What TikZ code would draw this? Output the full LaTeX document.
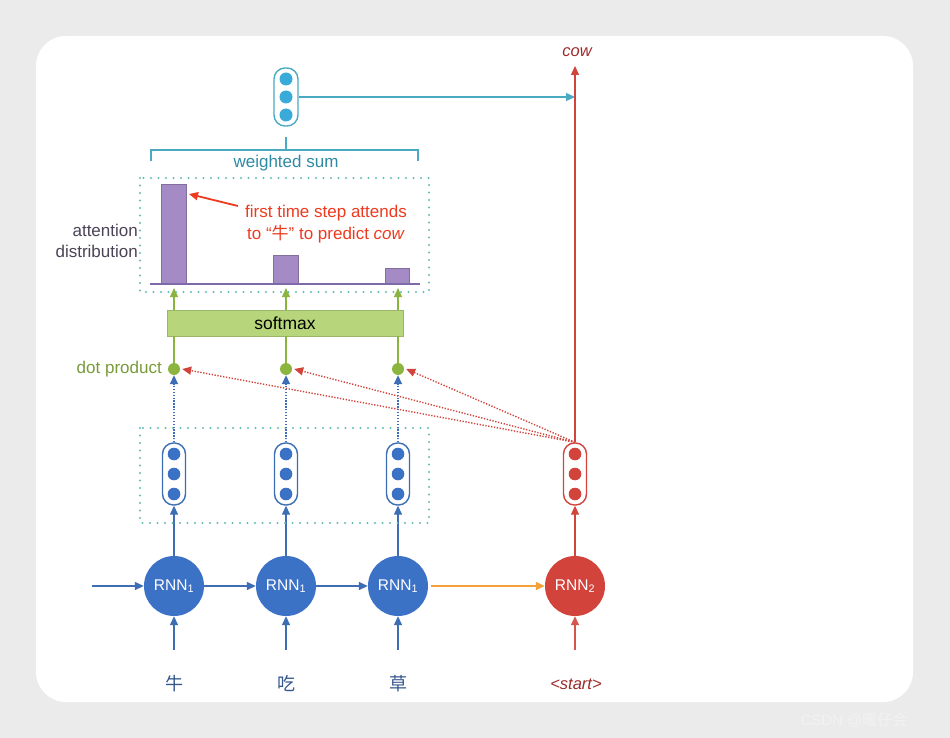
\documentclass[tikz,border=0pt]{standalone}
\usepackage{fontspec}
\setmainfont{Liberation Sans}
\newfontfamily\cjk{Noto Sans CJK SC}
\usetikzlibrary{arrows.meta}
\definecolor{bggray}{HTML}{EBEBEB}
\definecolor{encblue}{HTML}{3B72C6}
\definecolor{encline}{HTML}{3D6EB5}
\definecolor{decred}{HTML}{D2433B}
\definecolor{darkred}{HTML}{9E2B2B}
\definecolor{teal}{HTML}{4AAAC2}
\definecolor{tealtext}{HTML}{2E8BA3}
\definecolor{topdot}{HTML}{3AAAD9}
\definecolor{dotgreen}{HTML}{8CB53F}
\definecolor{smgreen}{HTML}{B7D67C}
\definecolor{olive}{HTML}{7A9A3A}
\definecolor{barpurple}{HTML}{A48BC6}
\definecolor{basepurple}{HTML}{7E6AA8}
\definecolor{attgray}{HTML}{4B4457}
\definecolor{annred}{HTML}{EE3A1E}
\definecolor{orangeline}{HTML}{F4A13A}
\definecolor{boxteal}{HTML}{66BDB5}
\definecolor{wordblue}{HTML}{34568C}
\begin{document}
\begin{tikzpicture}[x=1pt,y=-1pt,
  arr/.style={-{Triangle[length=9pt,width=8pt]}, line width=1.4pt},
  rnnnode/.style={circle, minimum size=60pt, inner sep=0pt, text=white, font=\fontsize{15.5}{18}\selectfont},
  vecnode/.style={draw, rounded corners=11pt, minimum width=23pt, minimum height=62pt, inner sep=0pt, line width=1.4pt, fill=white},
  dpnode/.style={circle, fill=dotgreen, minimum size=12pt, inner sep=0pt},
  dotbox/.style={draw=boxteal, line width=2.3pt, line cap=round, dash pattern=on 0pt off 7.5pt},
  lbl/.style={font=\fontsize{17}{20}\selectfont, inner sep=0pt},
  bar/.style={fill=barpurple, draw=barpurple!80!black, line width=0.4pt}
]
\useasboundingbox (0,0) rectangle (950,738);
\fill[bggray] (0,0) rectangle (950,738);
\fill[white, rounded corners=30pt] (36,36) rectangle (913,702);
\node[text=white!95!black, font=\fontsize{15}{18}\selectfont, anchor=west] (wm) at (797,720) {CSDN @\cjk 暖仔会};

% RNN nodes
\node[rnnnode, fill=encblue] (r1) at (174,586) {RNN\textsubscript{1}};
\node[rnnnode, fill=encblue] (r2) at (286,586) {RNN\textsubscript{1}};
\node[rnnnode, fill=encblue] (r3) at (398,586) {RNN\textsubscript{1}};
\node[rnnnode, fill=decred] (r4) at (575,586) {RNN\textsubscript{2}};

% word labels
\node[lbl, text=wordblue, font=\cjk\fontsize{18}{20}\selectfont] (w1) at (174,684) {牛};
\node[lbl, text=wordblue, font=\cjk\fontsize{18}{20}\selectfont] (w2) at (286,684) {吃};
\node[lbl, text=wordblue, font=\cjk\fontsize{18}{20}\selectfont] (w3) at (398,684) {草};
\node[lbl, text=darkred, font=\itshape\fontsize{16.5}{18}\selectfont] (w4) at (576,684) {<start>};

\coordinate (in1) at (174,650);
\coordinate (in2) at (286,650);
\coordinate (in3) at (398,650);
\coordinate (in4) at (575,650);
\draw[arr, encline] (in1) -- (r1.south);
\draw[arr, encline] (in2) -- (r2.south);
\draw[arr, encline] (in3) -- (r3.south);
\draw[arr, decred!90!white] (in4) -- (r4.south);

\coordinate (h0) at (92,586);
\draw[arr, encline] (h0) -- (r1.west);
\draw[arr, encline] (r1.east) -- (r2.west);
\draw[arr, encline] (r2.east) -- (r3.west);
\draw[arr, orangeline] ([xshift=3pt]r3.east) -- (r4.west);

% hidden vectors
\foreach \i/\x/\c in {1/174/encline,2/286/encline,3/398/encline,4/575/decred}{
  \node[vecnode, draw=\c] (v\i) at (\x,474) {};
}
\foreach \x/\c in {174/encblue,286/encblue,398/encblue,575/decred}{
  \foreach \yy in {454,474,494}{ \fill[\c] (\x,\yy) circle (6.3pt); }
}
\draw[arr, encline] (r1.north) -- (v1.south);
\draw[arr, encline] (r2.north) -- (v2.south);
\draw[arr, encline] (r3.north) -- (v3.south);
\draw[arr, decred] (r4.north) -- (v4.south);

% encoder dotted box
\draw[dotbox] (140,428) rectangle (429,523);

% dot products
\node[dpnode] (d1) at (174,369) {};
\node[dpnode] (d2) at (286,369) {};
\node[dpnode] (d3) at (398,369) {};
\node[lbl, text=olive, anchor=east] (dpl) at (162,369) {dot product};

\foreach \i in {1,2,3}{
  \draw[-{Triangle[length=9pt,width=8pt]}, encline, line width=1.5pt, dash pattern=on 1.3pt off 1.6pt] (v\i.north) -- (d\i.south);
}
\foreach \i in {1,2,3}{
  \draw[-{Triangle[length=9pt,width=8pt]}, decred, line width=1.4pt, dash pattern=on 1.3pt off 1.6pt] (v4.north) -- ([xshift=2pt]d\i.east);
}

% softmax
\node[fill=smgreen, draw=smgreen!85!black, line width=0.4pt, minimum width=236pt, minimum height=26pt, inner sep=0pt, font=\fontsize{17.5}{20}\selectfont] (sm) at (285,323) {softmax};
\foreach \i in {1,2,3}{
  \draw[dotgreen, line width=1.5pt] (d\i.north) -- (d\i.north |- sm.south);
}
\coordinate (t1) at (174,288);
\coordinate (t2) at (286,288);
\coordinate (t3) at (398,288);
\draw[arr, dotgreen] (174,310) -- (t1);
\draw[arr, dotgreen] (286,310) -- (t2);
\draw[arr, dotgreen] (398,310) -- (t3);

% attention box
\draw[dotbox] (140,178) rectangle (429,292);
\draw[bar] (161,284) rectangle (186,184);
\draw[bar] (273,284) rectangle (298,255);
\draw[bar] (385,284) rectangle (409,268);
\draw[basepurple, line width=1.8pt] (150,284) -- (420,284);
\node[lbl, text=attgray, align=right, anchor=east, font=\fontsize{17}{21}\selectfont] (attl) at (138,241) {attention\\distribution};

\node[lbl, text=annred, align=center, font=\fontsize{17}{22}\selectfont] (ann) at (326,224) {first time step attends\\to “{\cjk 牛}” to predict \textit{cow}};
\coordinate (bartop) at (189,194);
\draw[arr, annred, line width=1.8pt] (238,206) -- (bartop);

% weighted sum
\draw[teal, line width=1.8pt] (151,161) -- (151,150) -- (418,150) -- (418,161);
\coordinate (wsc) at (286,150);
\node[lbl, text=tealtext] (wsl) at (286,163) {weighted sum};
\node[vecnode, draw=teal, minimum height=58pt, minimum width=24pt] (ctx) at (286,97) {};
\foreach \yy in {79,97,115}{ \fill[topdot] (286,\yy) circle (6.5pt); }
\draw[teal, line width=1.8pt] (wsc) -- (286,137);
\coordinate (ctxend) at (575,97);
\draw[arr, teal] (ctx.east) -- (ctxend);

% output
\node[lbl, text=darkred, font=\itshape\fontsize{16.5}{18}\selectfont] (cow) at (577,52) {cow};
\draw[arr, decred] (v4.north) -- (575,66);
\end{tikzpicture}
\end{document}
